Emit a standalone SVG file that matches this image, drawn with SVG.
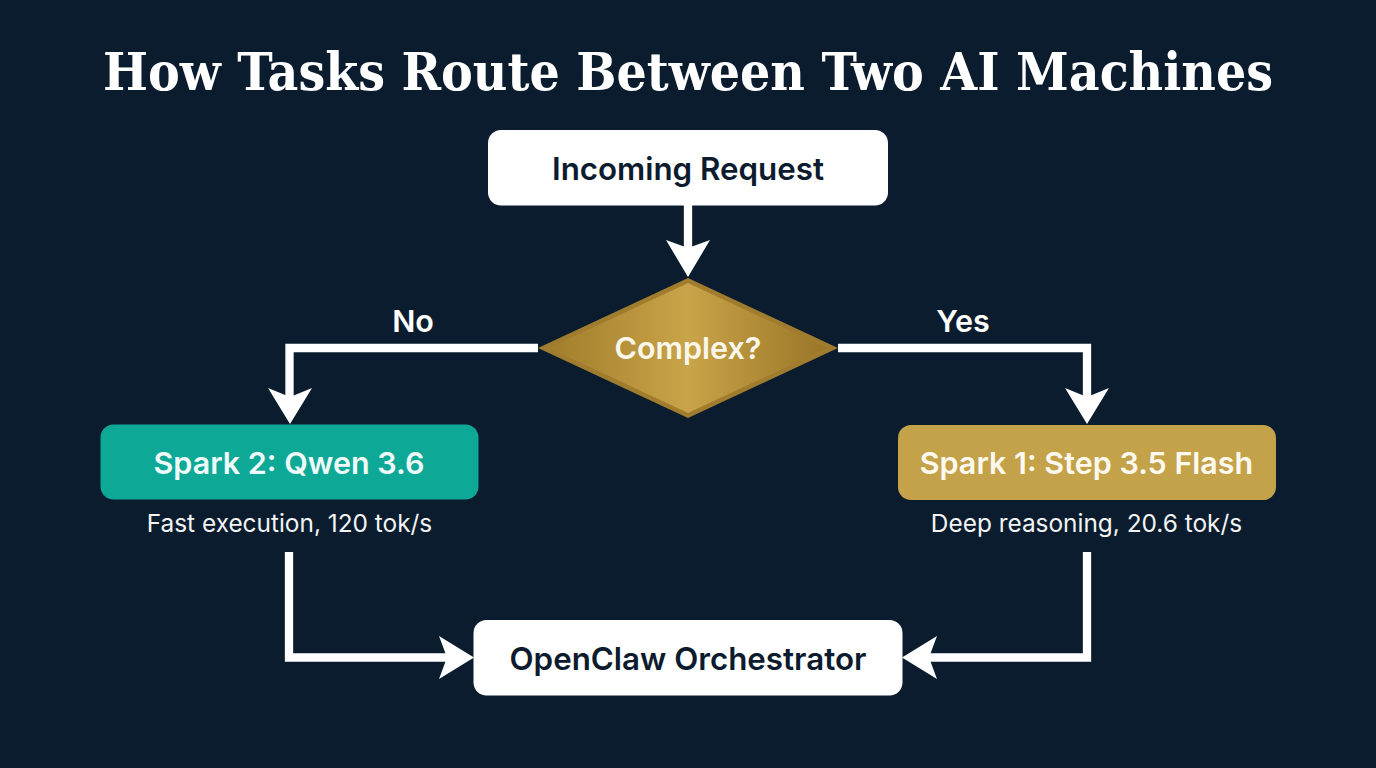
<svg xmlns="http://www.w3.org/2000/svg" width="1376" height="768" viewBox="0 0 1376 768">
<style>
.t{font-family:"DejaVu Serif",serif;font-stretch:condensed;font-weight:700;font-size:52px;fill:#fff;text-anchor:middle}
.l{font-family:Inter,"Liberation Sans",sans-serif;font-weight:600;font-size:30.500px;text-anchor:middle}
.b{font-size:31.300px}
.s{font-family:Inter,"Liberation Sans",sans-serif;font-weight:400;font-size:24.400px;fill:#f2f4f5;text-anchor:middle}
.c{fill:none;stroke:#fff;stroke-width:8.300;stroke-linejoin:miter}
.h{fill:#fff}
</style>
<defs>
<linearGradient id="g" x1="0" x2="1" y1="0" y2="0">
<stop offset="0" stop-color="#a27d2c"/><stop offset="0.5" stop-color="#c9a448"/><stop offset="1" stop-color="#9a7527"/>
</linearGradient>
</defs>
<rect width="1376" height="768" fill="#0b1c2e"/>
<text id="title" class="t" x="688" y="90" textLength="1170" lengthAdjust="spacingAndGlyphs">How Tasks Route Between Two AI Machines</text>
<g id="connectors">
<path class="c" d="M688 205V255"/>
<polygon class="h" points="666,240 688,248 710,240 688,277"/>
<path class="c" d="M538 348H289.500V405"/>
<polygon class="h" points="268,388 290,397 312,388 290,424"/>
<path class="c" d="M838 348H1087V405"/>
<polygon class="h" points="1065,388 1087,397 1109,388 1087,424"/>
<path class="c" d="M289 552V657.500H455"/>
<polygon class="h" points="439,636 447,657.500 439,679 474,657.500"/>
<path class="c" d="M1087 552V657.500H921"/>
<polygon class="h" points="937,636 929,657.500 937,679 902,657.500"/>
</g>
<g id="incoming"><rect x="488" y="130" width="400" height="75.500" rx="13" fill="#fff"/><text class="l b" x="688" y="179.500" fill="#0c1b2e">Incoming Request</text></g>
<g id="complex"><polygon points="688,278 838,348 688,418 538,348" fill="#a07c2e"/><polygon points="688,283 827,348 688,413 549,348" fill="url(#g)"/><text class="l" x="688" y="358.500" fill="#fbf7ea">Complex?</text></g>
<g id="no"><text class="l" x="413" y="332" fill="#fff">No</text></g>
<g id="yes"><text class="l" x="963" y="332" fill="#fff">Yes</text></g>
<g id="spark2"><rect x="100.500" y="424.500" width="378" height="75" rx="13" fill="#0ea897"/><text class="l" x="289" y="473.500" fill="#eefbf8">Spark 2: Qwen 3.6</text><text class="s" x="289.500" y="532">Fast execution, 120 tok/s</text></g>
<g id="spark1"><rect x="898" y="425" width="378" height="75" rx="13" fill="#c4a24a"/><text class="l" x="1086.500" y="473.500" fill="#fdf9ee">Spark 1: Step 3.5 Flash</text><text class="s" x="1086.500" y="532">Deep reasoning, 20.6 tok/s</text></g>
<g id="orchestrator"><rect x="473.500" y="620" width="429" height="75.500" rx="13" fill="#fff"/><text class="l b" x="688" y="669.500" fill="#0c1b2e">OpenClaw Orchestrator</text></g>
</svg>
